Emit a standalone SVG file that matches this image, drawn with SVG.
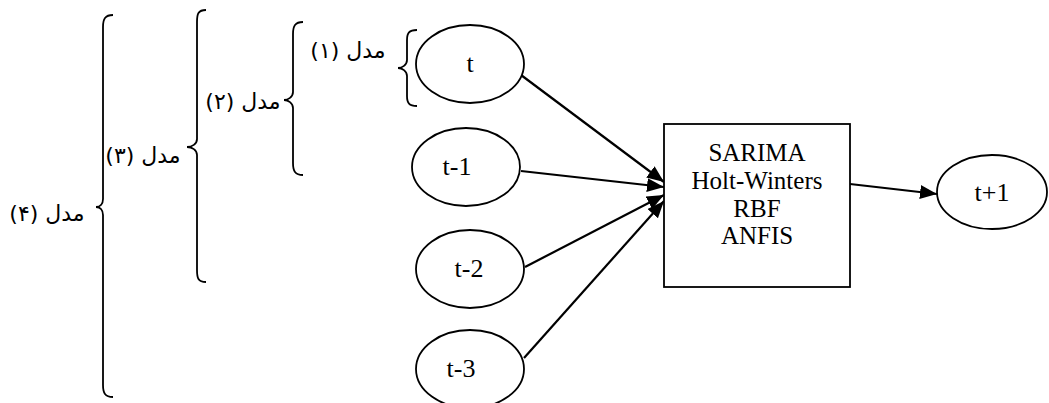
<svg xmlns="http://www.w3.org/2000/svg" width="1049" height="403" viewBox="0 0 1049 403">
  <style>
    .node { fill: #fff; stroke: #000; stroke-width: 1.8; }
    .lbl { font-family: "Liberation Serif", "Times New Roman", serif; font-size: 26px; fill: #000; text-anchor: middle; }
    .box { font-family: "Liberation Serif", "Times New Roman", serif; font-size: 25px; fill: #000; text-anchor: middle; }
    .edge { stroke: #000; stroke-width: 2.2; fill: none; marker-end: url(#arrow); }
    .brace { stroke: #000; stroke-width: 1.8; fill: none; }
    .fa { font-family: "DejaVu Sans", "Noto Sans", sans-serif; font-size: 22px; fill: #000; text-anchor: middle; }
  </style>
  <defs>
    <marker id="arrow" markerUnits="userSpaceOnUse" markerWidth="20" markerHeight="16" refX="17" refY="7" orient="auto">
      <path d="M0,0 L17,7 L0,14 Z" fill="#000"/>
    </marker>
  </defs>
  <rect width="1049" height="403" fill="#fff"/>

  <!-- connectors -->
  <g id="connectors">
    <line class="edge" x1="521" y1="75" x2="664" y2="182"/>
    <line class="edge" x1="521" y1="171" x2="664" y2="187"/>
    <line class="edge" x1="525" y1="267" x2="664" y2="195"/>
    <line class="edge" x1="524" y1="358" x2="664" y2="201"/>
    <line class="edge" x1="850" y1="184" x2="937" y2="194"/>
  </g>

  <!-- input nodes -->
  <g id="node-t">
    <ellipse class="node" cx="470" cy="64" rx="54" ry="39"/>
    <text class="lbl" x="470" y="72">t</text>
  </g>
  <g id="node-t1">
    <ellipse class="node" cx="466" cy="167" rx="54" ry="39"/>
    <text class="lbl" x="457" y="175">t-1</text>
  </g>
  <g id="node-t2">
    <ellipse class="node" cx="470" cy="269" rx="54" ry="39"/>
    <text class="lbl" x="469" y="277">t-2</text>
  </g>
  <g id="node-t3">
    <ellipse class="node" cx="470" cy="369" rx="54" ry="39"/>
    <text class="lbl" x="461" y="377">t-3</text>
  </g>

  <!-- model box -->
  <g id="node-models">
    <rect class="node" x="664" y="124" width="186" height="163"/>
    <text class="box" x="757" y="161">SARIMA</text>
    <text class="box" x="757" y="189">Holt-Winters</text>
    <text class="box" x="757" y="217">RBF</text>
    <text class="box" x="757" y="244">ANFIS</text>
  </g>

  <!-- output node -->
  <g id="node-out">
    <ellipse class="node" cx="992" cy="192" rx="55" ry="37"/>
    <text class="lbl" x="992" y="201">t+1</text>
  </g>

  <!-- model groupings -->
  <g id="model-1">
    <path class="brace" d="M417,30 C409,30 407,33 407,40 L407,60 C407,65 402,68 398,68 C402,68 407,71 407,76 L407,96 C407,103 409,106 417,106"/>
    <text class="fa" x="348" y="58" direction="rtl">مدل (۱)</text>
  </g>
  <g id="model-2">
    <path class="brace" d="M303,22 C295,22 293,26 293,34 L293,92 C293,97 288,100 284,100 C288,100 293,103 293,108 L293,163 C293,171 295,175 303,175"/>
    <text class="fa" x="243" y="109" direction="rtl">مدل (۲)</text>
  </g>
  <g id="model-3">
    <path class="brace" d="M206,10 C198,10 197,14 197,22 L197,139 C197,144 192,147 187,147 C192,147 197,150 197,155 L197,270 C197,278 198,282 206,282"/>
    <text class="fa" x="143" y="163" direction="rtl">مدل (۳)</text>
  </g>
  <g id="model-4">
    <path class="brace" d="M113,15 C105,15 103,19 103,27 L103,199 C103,204 100,207 96,207 C100,207 103,210 103,215 L103,385 C103,393 105,397 113,397"/>
    <text class="fa" x="47" y="221" direction="rtl">مدل (۴)</text>
  </g>
</svg>
